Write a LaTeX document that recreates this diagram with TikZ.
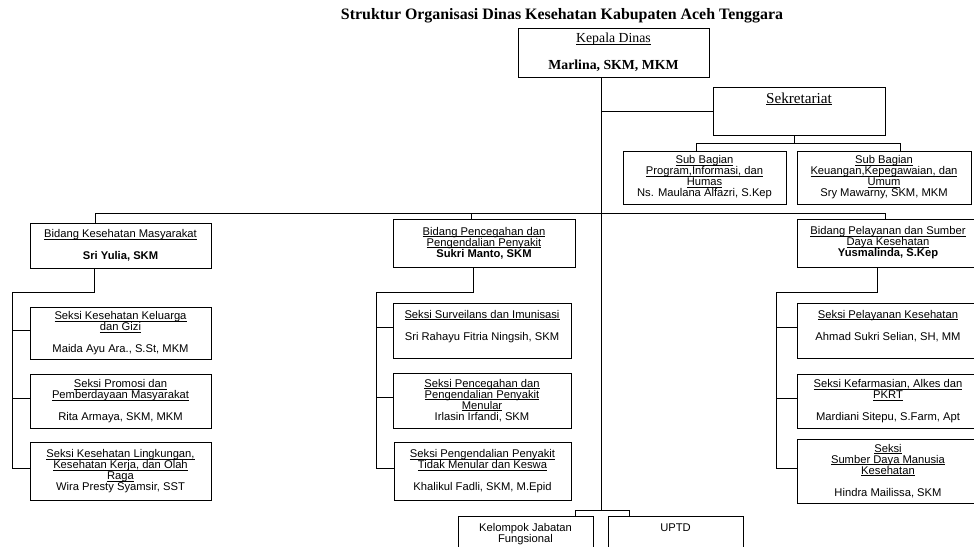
\documentclass[tikz,border=0pt]{standalone}
\usepackage{fontspec}
\setmainfont{Liberation Serif}
\setsansfont{Liberation Sans}
\usepackage{tikz}
\usetikzlibrary{positioning}
\newcommand{\undl}[1]{\leavevmode\setbox0=\hbox{#1}\rlap{\rule[-1.7pt]{\wd0}{0.6pt}}\box0}

\begin{document}
\begin{tikzpicture}[
    x=1pt, y=-1pt,
    % Yahan 'box' style kotak biasa
    box/.style={
        rectangle,
        draw,
        line width=1pt,
        align=center,
        inner sep=1pt,
        font=\sffamily\fontsize{11.2}{11}\selectfont
    },
    head/.style={box, font=\fontsize{13.8}{14}\selectfont},
    line/.style={draw, line width=1pt}
]
    \clip (0,0) rectangle (974,546);

    % Judul
    \node [font=\bfseries\fontsize{15.9}{17}\selectfont] (judul) at (562,16) {Struktur Organisasi Dinas Kesehatan Kabupaten Aceh Tenggara};

    % Nodes
    \node [head, minimum width=191, minimum height=49] (kd) at (613.5,52.5) {\undl{Kepala Dinas}\\[13pt]\textbf{Marlina, SKM, MKM}};
    \node [head, font=\fontsize{15.2}{15}\selectfont, minimum width=172, minimum height=48] (sek) at (799,111) {\undl{Sekretariat}\\[11pt]\mbox{}};
    \node [box, minimum width=163, minimum height=53] (sb1) at (704.5,177.5) {\undl{Sub Bagian}\\\undl{Program,Informasi, dan}\\\undl{Humas}\\Ns. Maulana Alfazri, S.Kep};
    \node [box, minimum width=174, minimum height=53] (sb2) at (884,177.5) {\undl{Sub Bagian}\\\undl{Keuangan,Kepegawaian, dan}\\\undl{Umum}\\Sry Mawarny, SKM, MKM};

    \node [box, minimum width=181, minimum height=45] (bk) at (120.5,245.5) {\undl{Bidang Kesehatan Masyarakat}\\[11pt]\textbf{Sri Yulia, SKM}};
    \node [box, minimum width=182, minimum height=48] (bp) at (484,243) {\undl{Bidang Pencegahan dan}\\\undl{Pengendalian Penyakit}\\\textbf{Sukri Manto, SKM}};
    \node [box, minimum width=182, minimum height=48] (bl) at (888,243) {\undl{Bidang Pelayanan dan Sumber}\\\undl{Daya Kesehatan}\\\textbf{Yusmalinda, S.Kep}};

    \node [box, minimum width=181, minimum height=52] (k1) at (120.5,333) {\undl{Seksi Kesehatan Keluarga}\\\undl{dan Gizi}\\[11pt]Maida Ayu Ara., S.St, MKM};
    \node [box, minimum width=181, minimum height=54] (k2) at (120.5,401) {\undl{Seksi Promosi dan}\\\undl{Pemberdayaan Masyarakat}\\[11pt]Rita Armaya, SKM, MKM};
    \node [box, minimum width=181, minimum height=58] (k3) at (120.5,471) {\undl{Seksi Kesehatan Lingkungan,}\\\undl{Kesehatan Kerja, dan Olah}\\\undl{Raga}\\Wira Presty Syamsir, SST};

    \node [box, minimum width=178, minimum height=55] (p1) at (482,330.5) {\undl{Seksi Surveilans dan Imunisasi}\\[11pt]Sri Rahayu Fitria Ningsih, SKM\\\mbox{}};
    \node [box, minimum width=178, minimum height=55] (p2) at (482,400.5) {\undl{Seksi Pencegahan dan}\\\undl{Pengendalian Penyakit}\\\undl{Menular}\\Irlasin Irfandi, SKM};
    \node [box, minimum width=177, minimum height=58] (p3) at (482.5,471) {\undl{Seksi Pengendalian Penyakit}\\\undl{Tidak Menular dan Keswa}\\[11pt]Khalikul Fadli, SKM, M.Epid};

    \node [box, minimum width=182, minimum height=55] (l1) at (888,330.5) {\undl{Seksi Pelayanan Kesehatan}\\[11pt]Ahmad Sukri Selian, SH, MM\\\mbox{}};
    \node [box, minimum width=182, minimum height=54] (l2) at (888,401) {\undl{Seksi Kefarmasian, Alkes dan}\\\undl{PKRT}\\[11pt]Mardiani Sitepu, S.Farm, Apt};
    \node [box, minimum width=182, minimum height=64] (l3) at (888,471) {\undl{Seksi}\\\undl{Sumber Daya Manusia}\\\undl{Kesehatan}\\[11pt]Hindra Mailissa, SKM};

    \node [box, anchor=north, inner ysep=5pt, minimum width=135, minimum height=44] (kel) at (525.5,516) {Kelompok Jabatan\\Fungsional\\\mbox{}};
    \node [box, anchor=north, inner ysep=5pt, minimum width=135, minimum height=44] (upt) at (675.5,516) {UPTD\\\mbox{}\\\mbox{}};

    % Titik sambungan
    \coordinate (bb) at (601,510);
    \coordinate (sj) at (794,143);
    \coordinate (sa) at (696,143);
    \coordinate (sc) at (900,143);
    \coordinate (ba) at (95,213);
    \coordinate (bm) at (471,213);
    \coordinate (bc) at (885,213);
    \coordinate (ka) at (94,292);
    \coordinate (kv) at (12,292);
    \coordinate (pa) at (473,292);
    \coordinate (pv) at (376,292);
    \coordinate (la) at (877,292);
    \coordinate (lv) at (776,292);
    \coordinate (ea) at (575,510);
    \coordinate (eb) at (629,510);

    % Paths
    \path [line] (kd.south -| bb) -- (bb);
    \path [line] (sek.west -| bb) -- (sek.west);
    \path [line] (sek.south -| sj) -- (sj);
    \path [line] (sb1.north -| sa) -- (sa) -- (sc) -- (sb2.north -| sc);
    \path [line] (bk.north -| ba) -- (ba) -- (bc) -- (bl.north -| bc);
    \path [line] (bm) -- (bp.north -| bm);
    \path [line] (bk.south -| ka) -- (ka) -- (kv) -- ([yshift=3pt]kv |- k3.west);
    \path [line] (bp.south -| pa) -- (pa) -- (pv) -- ([yshift=3pt]pv |- p3.west);
    \path [line] (bl.south -| la) -- (la) -- (lv) -- ([yshift=3pt]lv |- l3.west);
    \foreach \s in {k1,k2,k3}
        \path [line] ([yshift=3pt]kv |- \s.west) -- ([yshift=3pt]\s.west);
    \foreach \s in {p1,p2,p3}
        \path [line] ([yshift=3pt]pv |- \s.west) -- ([yshift=3pt]\s.west);
    \foreach \s in {l1,l2,l3}
        \path [line] ([yshift=3pt]lv |- \s.west) -- ([yshift=3pt]\s.west);
    \path [line] (ea) -- (eb);
    \path [line] (ea) -- (kel.north -| ea);
    \path [line] (eb) -- (upt.north -| eb);
\end{tikzpicture}
\end{document}
